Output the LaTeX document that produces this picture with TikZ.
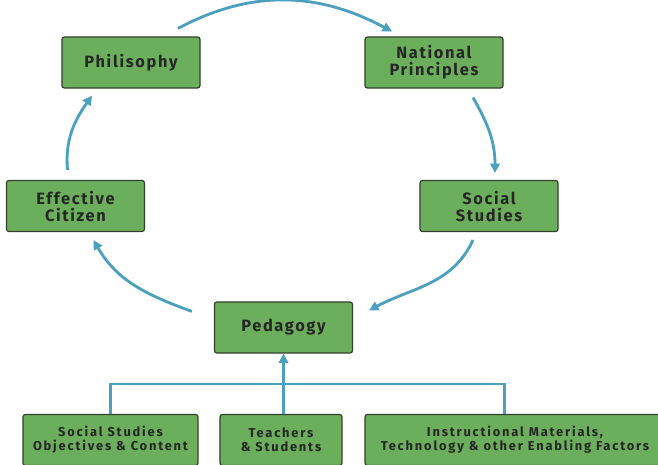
\documentclass[tikz,border=0pt]{standalone}
\usepackage{fontspec}
\newfontfamily\boxfont{Fira Sans}[LetterSpace=10]
\newfontfamily\smallboxfont{Fira Sans}[LetterSpace=14]
\usepackage{xcolor}
\usetikzlibrary{arrows.meta}

\definecolor{boxgreen}{HTML}{6BAE5C}
\definecolor{boxedge}{HTML}{34402F}
\definecolor{flow}{HTML}{4AA0BE}

\begin{document}
\begin{tikzpicture}[x=0.03cm,y=0.03cm,
  box/.style={draw=boxedge,line width=1pt,fill=boxgreen,rounded corners=2pt,
    minimum width=4.14cm,minimum height=1.53cm,inner sep=0pt,align=center,
    text=black!85,font=\boxfont\bfseries\fontsize{14}{14.5}\selectfont},
  smallbox/.style={box,font=\smallboxfont\bfseries\fontsize{11}{12}\selectfont},
  flowarrow/.style={draw=flow,line width=2.4pt,-{Triangle[length=8pt,width=8pt]}},
  link/.style={draw=flow,line width=2.4pt}]

  % Frame
  \useasboundingbox (0,0) rectangle (658,464);
  \clip (0,0) rectangle (658,464);

  % Cycle boxes
  \node[box] (phil) at (131,401.5) {Philisophy};
  \node[box] (natl) at (434,401.5) {National\\Principles};
  \node[box] (citz) at (75.5,258) {Effective\\Citizen};
  \node[box] (socst) at (489,258) {Social\\Studies};
  \node[box] (peda) at (283.5,136.5) {Pedagogy};

  % Bottom boxes
  \node[smallbox,minimum width=5.25cm] (obj) at (110.5,24) {Social Studies\\Objectives \& Content};
  \node[smallbox,minimum width=3.66cm] (teach) at (281,24) {Teachers\\\& Students};
  \node[smallbox,minimum width=9cm] (instr) at (515,24) {Instructional Materials,\\Technology \& other Enabling Factors};

  % Cycle arrows
  \draw[flowarrow] ([shift={(47,8)}]phil.north) to[out=28,in=152] ([shift={(-42,5)}]natl.north);
  \draw[flowarrow] ([shift={(39,-9)}]natl.south) to[out=-60,in=90] ([shift={(6,7)}]socst.north);
  \draw[flowarrow] ([shift={(-16,-8)}]socst.south) to[out=-115,in=28] ([shift={(16,-9)}]peda.north east);
  \draw[flowarrow] ([shift={(-22,-10)}]peda.north west) to[out=160,in=-60] ([shift={(18,-8)}]citz.south);
  \draw[flowarrow] ([shift={(-8,10)}]citz.north) to[out=95,in=-125] ([shift={(-39,-7)}]phil.south);

  % Inputs to pedagogy
  \draw[link] (obj.north) -- ++(0,30) -| ([xshift=-9]instr.north);
  \draw[flowarrow] (peda.south |- teach.north) -- (peda.south);

\end{tikzpicture}
\end{document}
